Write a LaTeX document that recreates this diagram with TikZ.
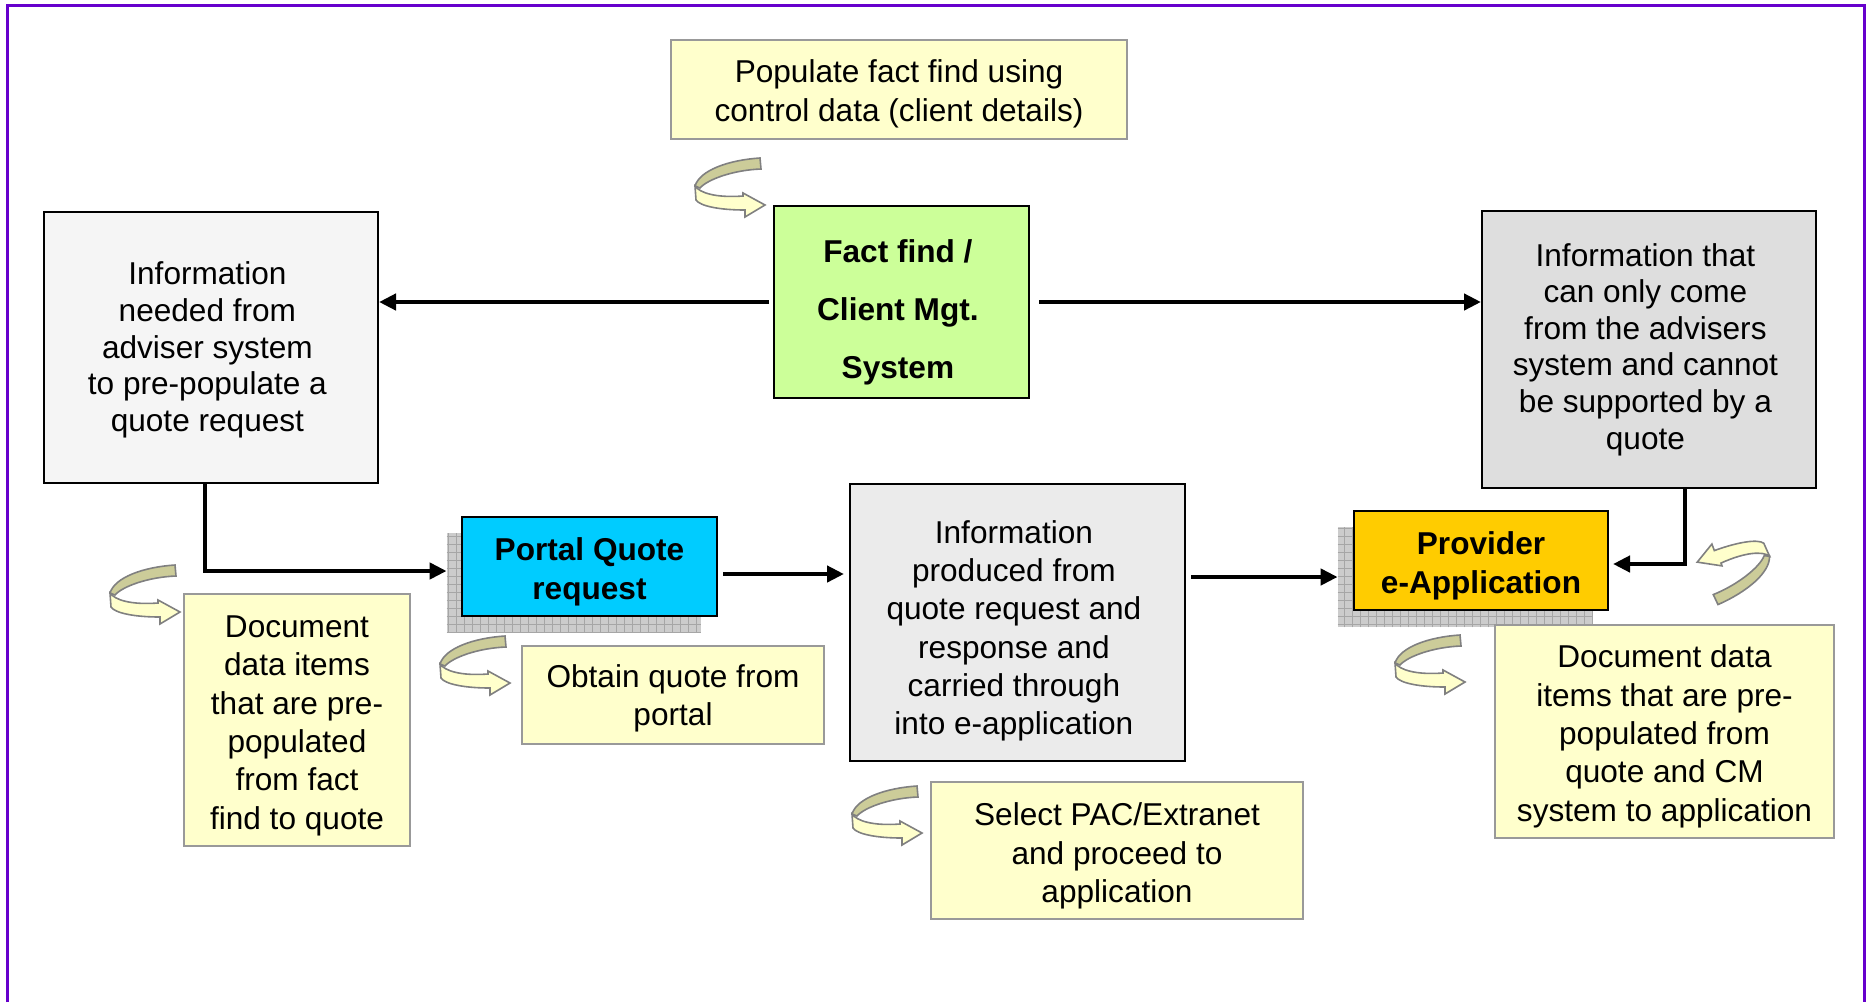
\documentclass[tikz,border=0pt]{standalone}
\usepackage{fontspec}
\setmainfont{Liberation Sans}
\usetikzlibrary{arrows.meta}

\definecolor{notefill}{HTML}{FFFFCC}
\definecolor{factgreen}{HTML}{CCFF99}
\definecolor{portalblue}{HTML}{00CCFF}
\definecolor{provgold}{HTML}{FFCC00}
\definecolor{curlback}{HTML}{CCCC99}
\definecolor{framepurple}{HTML}{6600CC}

% taller first line pushes a centred text block down
\newcommand{\padtop}[1]{\rule{0pt}{#1}}

\tikzset{
  curl/.pic={
    \filldraw[fill=curlback,draw=black!50,line width=0.8pt]
      (66,0) .. controls (35,2) and (6,12) .. (1,28) -- (6,30)
      .. controls (14,21) and (40,12) .. (67,11) -- cycle;
    \filldraw[fill=notefill,draw=black!50,line width=0.8pt]
      (1,28) .. controls (6,35) and (22,40) .. (49,38) -- (49,35) -- (71,47)
      -- (51,59) -- (51,52) .. controls (25,52) and (6,48) .. (2,42) -- cycle;
  },
  textleft/.style={execute at end node={\hspace*{3.6pt}}}
}

\begin{document}
\begin{tikzpicture}[x=0.5pt,y=-0.5pt,
  box/.style={draw=black,line width=1pt,align=center,inner sep=0pt,
    font=\fontsize{15.8}{18.3}\selectfont},
  note/.style={draw=black!40,line width=0.8pt,fill=notefill,align=center,inner sep=0pt,
    font=\fontsize{15.8}{19.15}\selectfont},
  backdrop/.style={fill=black!20,inner sep=0pt},
  flow/.style={line width=2.25pt,-{Triangle[length=8.5pt,width=8pt]}}]
  \useasboundingbox (0,0) rectangle (1866,1002);
  \draw[framepurple,line width=1.5pt] (7.5,1002) -- (7.5,5.5) -- (1864,5.5) -- (1864,1002);

  % top row
  \node[note,minimum width=228pt,minimum height=49.5pt] (populate) at (899,89.5)
    {\padtop{15.7pt}Populate fact find using\\control data (client details)};
  \node[box,textleft,fill=factgreen,minimum width=127.5pt,minimum height=96pt,
    font=\bfseries\fontsize{15.8}{29}\selectfont] (fact) at (901.5,302)
    {\padtop{22.2pt}Fact find /\\Client Mgt.\\System};
  \node[box,textleft,fill=black!4,minimum width=167pt,minimum height=135.5pt] (needed) at (211,347.5)
    {\padtop{13.9pt}Information\\needed from\\adviser system\\to pre-populate a\\quote request};
  \node[box,textleft,fill=black!13,minimum width=167pt,minimum height=138.5pt] (advonly) at (1649,349.5)
    {Information that\\can only come\\from the advisers\\system and cannot\\be supported by a\\quote};

  % middle row
  \node[backdrop,minimum width=127pt,minimum height=49.5pt] (pqshadow) at (574,582.5) {};
  \draw[black!35,step=4pt] (pqshadow.south west) grid (pqshadow.north east);
  \node[box,fill=portalblue,minimum width=127.5pt,minimum height=49.5pt,
    font=\bfseries\fontsize{15.8}{19.5}\selectfont] (portal) at (589.5,566.5)
    {\padtop{16.3pt}Portal Quote\\request};
  \node[box,textleft,fill=black!8,minimum width=167.5pt,minimum height=138.5pt,
    font=\fontsize{15.8}{19.15}\selectfont] (produced) at (1017.5,622.5)
    {\padtop{19.9pt}Information\\produced from\\quote request and\\response and\\carried through\\into e-application};
  \node[backdrop,minimum width=127pt,minimum height=50pt] (pvshadow) at (1465,577) {};
  \draw[black!35,step=4pt] (pvshadow.south west) grid (pvshadow.north east);
  \node[box,fill=provgold,minimum width=127pt,minimum height=49.5pt,
    font=\bfseries\fontsize{15.8}{19.5}\selectfont] (provider) at (1481,560.5)
    {\padtop{16.3pt}Provider\\e-Application};

  % notes
  \node[note,minimum width=113pt,minimum height=126pt] (docleft) at (297,720)
    {\padtop{16.7pt}Document\\data items\\that are pre-\\populated\\from fact\\find to quote};
  \node[note,minimum width=151pt,minimum height=49pt] (obtain) at (673,695)
    {\padtop{15.1pt}Obtain quote from\\portal};
  \node[note,minimum width=186pt,minimum height=68.5pt] (select) at (1117,850.5)
    {\padtop{16.9pt}Select PAC/Extranet\\and proceed to\\application};
  \node[note,minimum width=169.5pt,minimum height=106.5pt] (docright) at (1664.5,731.5)
    {\padtop{16.3pt}Document data\\items that are pre-\\populated from\\quote and CM\\system to application};

  % connectors
  \draw[flow,shorten <=2pt] (fact.west) -- (fact.west -| needed.east);
  \draw[flow,shorten <=4.5pt] (fact.east) -- (fact.east -| advonly.west);
  \draw[flow] ([xshift=-3pt]needed.south) |- ([yshift=-2.25pt]portal.west -| pqshadow.west);
  \draw[flow,shorten <=2.5pt,shorten >=2.5pt] ([yshift=-3.75pt]portal.east)
    -- ([yshift=-3.75pt]portal.east -| produced.west);
  \draw[flow,shorten <=2.5pt] (produced.east |- pvshadow.west) -- (pvshadow.west);
  \draw[flow,shorten >=2pt] ([xshift=18pt]advonly.south) |- ([yshift=-1.75pt]provider.east);

  % curled arrows
  \pic at (694,158) {curl};
  \pic at (109,565) {curl};
  \pic at (439,636) {curl};
  \pic at (851,786) {curl};
  \pic at (1394,635) {curl};
  \pic[rotate=200] at (1780,582) {curl};
\end{tikzpicture}
\end{document}
